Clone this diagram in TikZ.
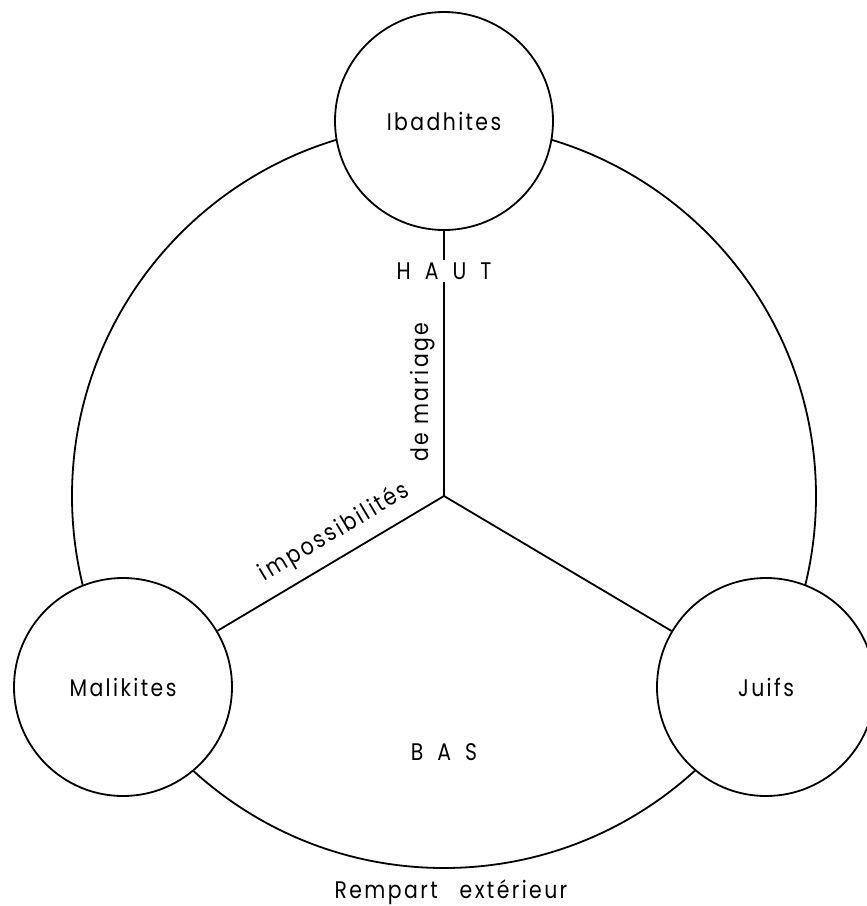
\documentclass[tikz,border=0pt]{standalone}
\usepackage{fontspec}
\setmainfont{Poppins}[FakeStretch=0.85]
\newfontfamily\lblfont{Poppins}[LetterSpace=10,FakeStretch=0.85]
\begin{document}
\begin{tikzpicture}[x=1pt,y=-1pt,line width=1.8pt,
  sect/.style={circle,draw,fill=white,minimum size=218pt,inner sep=0pt,
    font=\lblfont\fontsize{24}{28}\selectfont},
  lbl/.style={font=\lblfont\fontsize{24}{28}\selectfont,inner sep=1pt},
  caps/.style={font=\fontsize{24}{28}\selectfont,inner sep=3pt}]
\useasboundingbox (0,0) rectangle (867,906);
\clip (0,0) rectangle (867,906);
\coordinate (c) at (444,496);
\node[draw,circle,minimum size=744pt,inner sep=0pt] (rempart) at (c) {};
\node[sect] (ib) at (444,121) {Ibadhites};
\node[sect] (ma) at (123,687) {Malikites};
\node[sect] (ju) at (766,687) {Juifs};
\draw (c) -- (ib);
\draw (c) -- (ma);
\draw (c) -- (ju);
\node[caps,fill=white] (haut) at (444,271) {H\hspace{14pt}A\hspace{14pt}U\hspace{14pt}T};
\node[caps] (bas) at (444,752) {B\hspace{14pt}A\hspace{14pt}S};
\node[lbl] (rext) at (451,892) {Rempart\hspace{22pt}extérieur};
\node[lbl,rotate=90,anchor=base] (mariage) at (428,392) {de mariage};
\node[lbl,rotate=30.75,anchor=base] (imposs) at (338,538) {impossibilités};
\end{tikzpicture}
\end{document}
